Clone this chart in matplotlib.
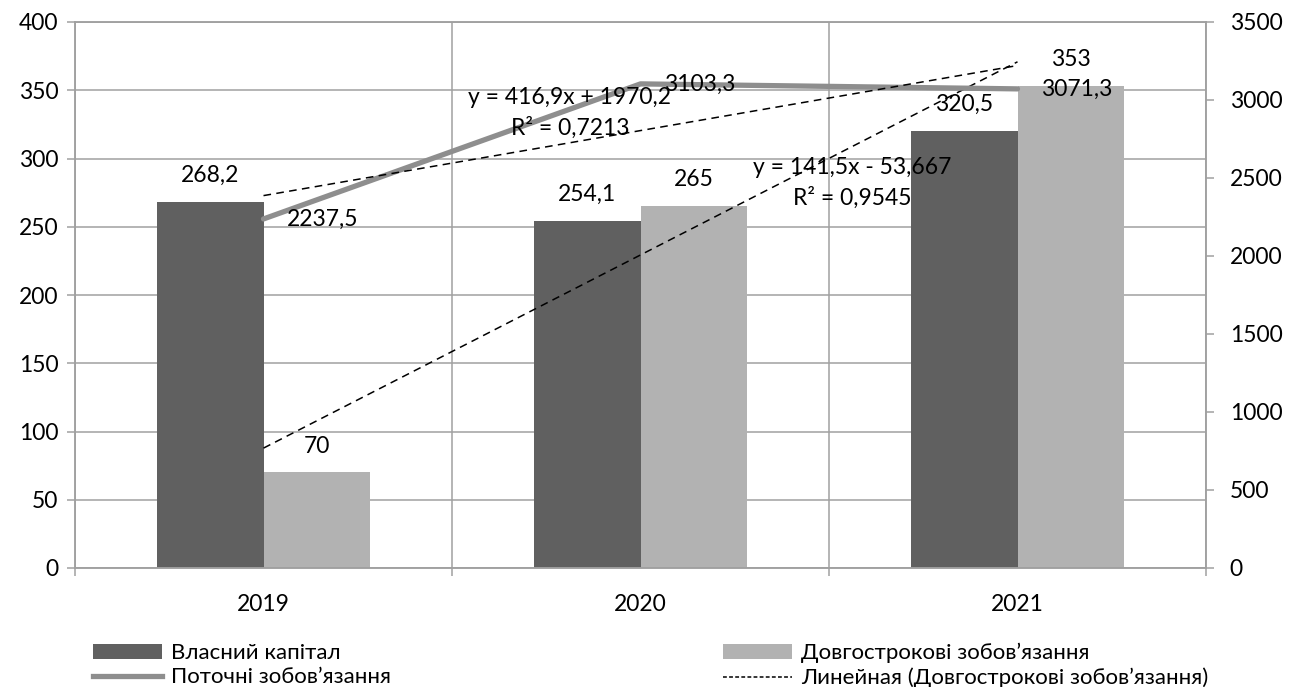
import numpy as np
import matplotlib
matplotlib.use("Agg")
import matplotlib.pyplot as plt
from matplotlib.patches import Patch
from matplotlib.lines import Line2D

plt.rcParams['font.family'] = ['Lato', 'DejaVu Sans']
plt.rcParams['font.size'] = 16.5

# ---------------------------
# DATA
# ---------------------------
years = ['2019', '2020', '2021']
equity = [268.2, 254.1, 320.5]          # Власний капітал (left axis)
long_term = [70, 265, 353]              # Довгострокові зобов'язання (left axis)
current = [2237.5, 3103.3, 3071.3]      # Поточні зобов'язання (right axis)

DARK = '#606060'
LIGHT = '#b2b2b2'
LINE = '#8e8e8e'
GRID = '#a0a0a0'


def fmt(v):
    return str(v).replace('.', ',')


def trend(y):
    # Excel-style linear trendline over periods 1..n
    t = np.arange(1, len(y) + 1)
    k, b = np.polyfit(t, y, 1)
    fit = k * t + b
    y = np.asarray(y, dtype=float)
    r2 = 1 - np.sum((y - fit) ** 2) / np.sum((y - y.mean()) ** 2)
    sign = '+' if b >= 0 else '-'
    eq = f"y = {k:.5g}x {sign} {abs(b):.5g}".replace('.', ',')
    r2s = f"R² = {r2:.4f}".replace('.', ',')
    return fit, eq, r2s


W, H = 1303, 687
fig = plt.figure(figsize=(W / 100, H / 100), dpi=100)
ax = fig.add_axes([75 / W, 1 - 568 / H, 1131 / W, 546 / H])

x = np.arange(len(years))
bw = 0.283
bars1 = ax.bar(x - bw / 2, equity, bw, color=DARK, zorder=2)
bars2 = ax.bar(x + bw / 2, long_term, bw, color=LIGHT, zorder=2)

ax.set_xlim(-0.5, 2.5)
ax.set_ylim(0, 400)
ax.set_yticks(range(0, 401, 50))
ax.set_xticks(np.arange(-0.5, 3, 1))
ax.set_xticklabels([])
ax.set_xticks(x, minor=True)
ax.set_xticklabels(years, minor=True)
ax.tick_params(axis='x', which='minor', length=0, pad=19)
ax.tick_params(axis='x', which='major', length=6, width=1.1, color=GRID)
ax.tick_params(axis='y', length=6, width=1.1, color=GRID, pad=6)
ax.grid(True, which='major', color=GRID, lw=1.1)
for s in ax.spines.values():
    s.set_color(GRID)
    s.set_linewidth(1.1)

# long-term liabilities trendline
lt_fit, lt_eq, lt_r2 = trend(long_term)
ax.plot(x, lt_fit, color='black', lw=1.1, dashes=(5, 3.5), zorder=4)

for b, v in zip(bars1, equity):
    ax.annotate(fmt(v), (b.get_x() + b.get_width() / 2, v), xytext=(0, 19),
                textcoords='offset points', ha='center', va='center', zorder=6)
for b, v in zip(bars2, long_term):
    ax.annotate(fmt(v), (b.get_x() + b.get_width() / 2, v), xytext=(0, 19),
                textcoords='offset points', ha='center', va='center', zorder=6)

# current liabilities on the secondary axis
ax2 = ax.twinx()
ax2.set_ylim(0, 3500)
ax2.set_yticks(range(0, 3501, 500))
ax2.tick_params(axis='y', length=6, width=1.1, color=GRID, pad=11)
for s in ax2.spines.values():
    s.set_color(GRID)
    s.set_linewidth(1.1)
ax2.plot(x, current, color=LINE, lw=3.8, solid_capstyle='round', zorder=3)

cur_fit, cur_eq, cur_r2 = trend(current)
ax2.plot(x, cur_fit, color='black', lw=1.1, dashes=(5, 3.5), zorder=4)

for xi, v in zip(x, current):
    ax2.annotate(fmt(v), (xi, v), xytext=(17, 0), textcoords='offset points',
                 ha='left', va='center', zorder=6)

# trendline equations
ax2.text(0.437, 0.861, cur_eq, transform=ax.transAxes, ha='center', va='center')
ax2.text(0.438, 0.806, cur_r2, transform=ax.transAxes, ha='center', va='center')
ax2.text(0.687, 0.734, lt_eq, transform=ax.transAxes, ha='center', va='center')
ax2.text(0.687, 0.678, lt_r2, transform=ax.transAxes, ha='center', va='center')

# legend in two separate columns
leg_kw = dict(frameon=False, loc='upper left', handlelength=3.1, handleheight=0.65,
              handletextpad=0.4, labelspacing=0.2, borderpad=0, borderaxespad=0,
              fontsize=16)
h1 = [Patch(facecolor=DARK), Line2D([], [], color=LINE, lw=3.8)]
fig.legend(h1, ['Власний капітал', 'Поточні зобов’язання'],
           bbox_to_anchor=(93 / W, 1 - 643 / H), **leg_kw)
h2 = [Patch(facecolor=LIGHT), Line2D([], [], color='black', lw=1.1, dashes=(2.5, 1.5))]
fig.legend(h2, ['Довгострокові зобов’язання', 'Линейная (Довгострокові зобов’язання)'],
           bbox_to_anchor=(723 / W, 1 - 643 / H), **leg_kw)

fig.savefig('out.png', dpi=100)
